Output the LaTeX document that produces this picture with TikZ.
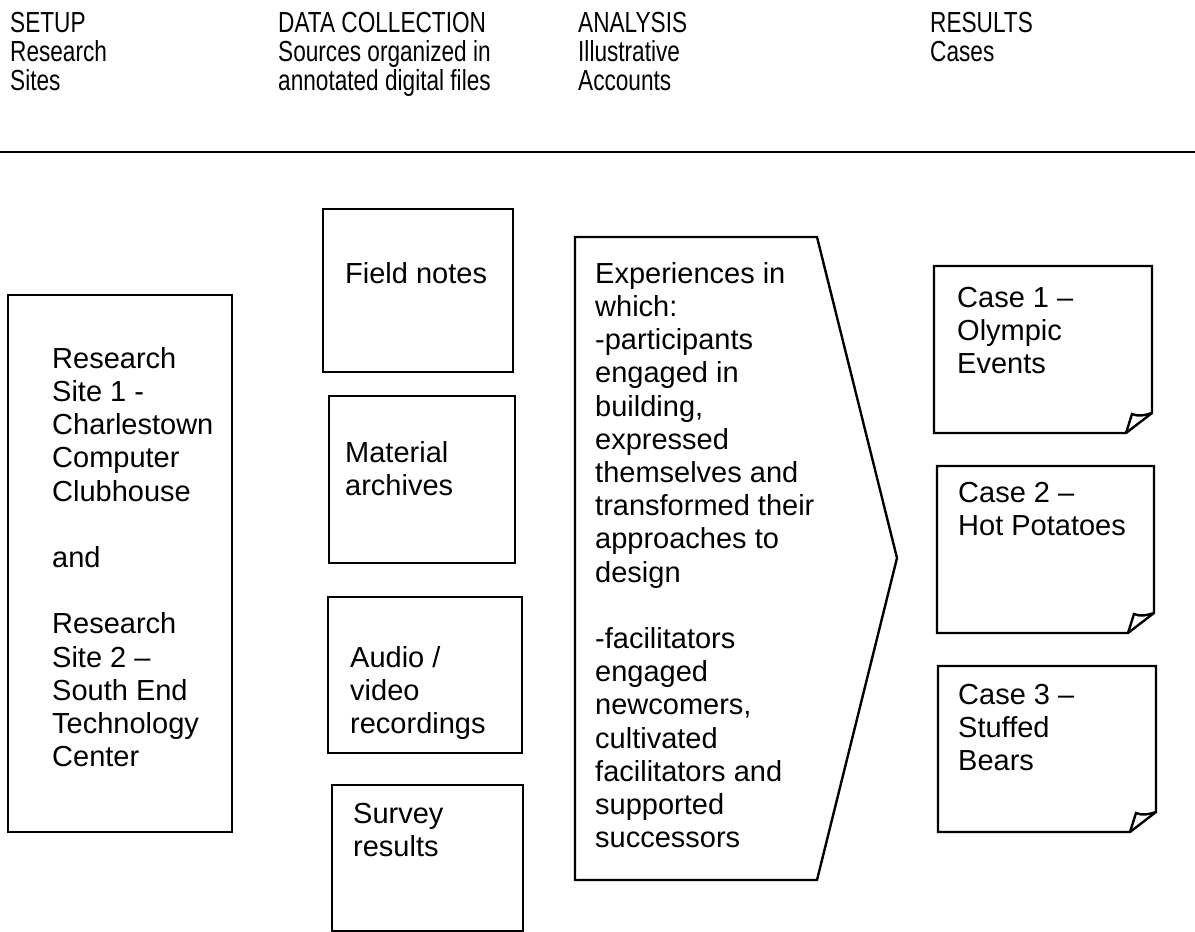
\documentclass[tikz,border=0pt]{standalone}
\usepackage{fontspec}
\setmainfont{Liberation Sans}
\newfontfamily\headfont[FakeStretch=0.78]{Liberation Sans}
\begin{document}
\begin{tikzpicture}[x=1pt,y=-1pt,
  txt/.style={anchor=north west, inner sep=0pt, align=left,
              font=\fontsize{29}{33.2}\selectfont},
  headtxt/.style={anchor=north west, inner sep=0pt, align=left,
              font=\headfont\fontsize{29}{29}\selectfont},
  frame/.style={draw=black, line width=2.4pt, line join=miter},
]
\useasboundingbox (0,0) rectangle (1195,932);

% column headings
\node[headtxt] (hsetup) at (10,12) {SETUP\\Research\\Sites};
\node[headtxt] (hdata) at (278,12) {DATA COLLECTION\\Sources organized in\\annotated digital files};
\node[headtxt] (hanalysis) at (578,12) {ANALYSIS\\Illustrative\\Accounts};
\node[headtxt] (hresults) at (930,12) {RESULTS\\Cases};
\draw[line width=2.2pt] (0,152) -- (1195,152);

% setup: research sites
\draw[frame] (8,295) rectangle (232,832);
\node[txt] (sites) at (52,347) {Research\\Site 1 -\\Charlestown\\Computer\\Clubhouse\\[33.2pt]and\\[33.2pt]Research\\Site 2 --\\South End\\Technology\\Center};

% data collection: sources
\draw[frame] (323,209) rectangle (513,372);
\node[txt] (field) at (345,262) {Field notes};
\draw[frame] (329,396) rectangle (515,563);
\node[txt] (material) at (345,441) {Material\\archives};
\draw[frame] (328,597) rectangle (522,753);
\node[txt] (audio) at (350,646) {Audio /\\video\\recordings};
\draw[frame] (332,785) rectangle (523,931);
\node[txt] (survey) at (353,803) {Survey\\results};

% analysis: pentagon arrow
\draw[frame] (575,237) -- (817,237) -- (897,558) -- (817,880) -- (575,880) -- cycle;
\node[txt] (accounts) at (595,262) {Experiences in\\which:\\-participants\\engaged in\\building,\\expressed\\themselves and\\transformed their\\approaches to\\design\\[33.2pt]-facilitators\\engaged\\newcomers,\\cultivated\\facilitators and\\supported\\successors};

% results: cases on folded-corner sheets
\foreach \L/\T/\R/\B in {934/266/1152/433, 937/466/1154/633, 938/666/1156/832}{
  \draw[frame] (\L,\T) -- (\R,\T) -- (\R,\B-20) -- (\R-26,\B) -- (\L,\B) -- cycle;
  \draw[frame] (\R-26,\B) -- (\R-20,\B-19) .. controls (\R-14,\B-16) and (\R-6,\B-18) .. (\R,\B-20);
}
\node[txt] (case1) at (957,287) {Case 1 --\\Olympic\\Events};
\node[txt] (case2) at (958,482) {Case 2 --\\Hot Potatoes};
\node[txt] (case3) at (958,684) {Case 3 --\\Stuffed\\Bears};
\end{tikzpicture}
\end{document}
